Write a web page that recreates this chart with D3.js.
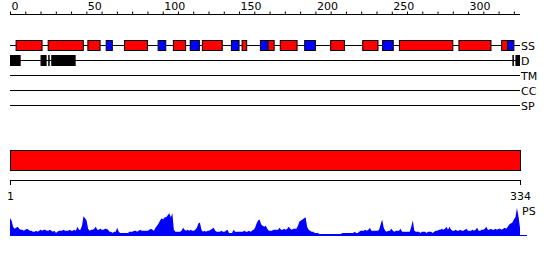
<!DOCTYPE html>
<html><head><meta charset="utf-8">
<script src="https://cdn.jsdelivr.net/npm/d3@7"></script>
<style>body{margin:0;background:#fff}svg{display:block}text{font-family:"DejaVu Sans",sans-serif;font-size:11px;fill:#000}</style>
</head><body><svg id="c" width="550" height="260"></svg>
<script>
const seqLength = 334;
const trackNames = ["SS", "D", "TM", "CC", "SP"];
// secondary structure elements: [start, end, type] (H = helix red, E = strand blue)
const ssStart = [4, 25, 51, 63, 75, 97, 107, 118, 126, 145, 152, 164, 169, 177, 193, 210, 231, 244, 255, 294, 322, 326];
const ssEnd   = [21, 48, 59, 67, 90, 102, 115, 124, 139, 150, 155, 169, 173, 188, 200, 219, 241, 251, 290, 315, 326, 330];
const ssType  = ["H","H","H","E","H","E","H","E","H","E","H","E","H","H","E","H","H","E","H","H","H","E"];
// disordered regions
const disStart = [0, 20, 25, 27, 329, 331];
const disEnd   = [7, 24, 26, 43, 330, 334];
const topTicks = d3.range(0, 331, 10);
const rulerLabels = [1, 334];
// PS profile, one value per residue 1..334
const psValues = [
17,15,9,7,8,9,7,6,6,5,
6,7,6,5,5,4,4,5,4,5,
6,5,6,6,5,5,6,5,4,5,
3,4,5,5,5,6,5,5,5,6,
5,5,6,5,9,6,6,10,19,17,
15,7,5,6,6,7,9,6,6,7,
6,6,7,7,6,4,4,3,4,4,
8,4,3,3,3,3,3,3,4,4,
4,5,5,4,5,6,5,5,5,5,
5,6,7,6,5,8,10,12,15,17,
16,18,18,20,22,18,22,6,4,4,
4,4,5,8,6,5,6,5,6,5,
5,6,8,12,13,6,4,5,4,5,
5,6,7,8,5,4,4,4,5,4,
4,5,6,3,3,3,6,4,4,4,
4,4,4,5,4,4,5,4,5,6,
8,12,15,16,11,10,9,10,7,5,
5,5,6,6,6,6,8,6,6,7,
6,7,9,7,6,7,7,7,10,14,
15,16,17,18,9,6,5,4,4,3,
3,3,2,2,2,2,2,2,2,2,
2,2,2,2,2,2,2,3,3,3,
3,3,3,3,3,4,3,3,4,5,
5,5,6,5,6,8,5,5,5,5,
5,6,11,16,8,5,4,5,5,7,
5,4,5,5,5,7,4,4,4,4,
4,4,9,15,5,4,4,4,3,4,
4,4,3,4,4,4,3,4,5,5,
6,6,7,6,7,9,6,9,6,5,
5,6,5,5,6,5,5,6,7,5,
5,5,6,5,6,8,5,5,6,6,
7,9,6,6,7,6,6,7,6,7,
7,6,7,8,7,9,11,12,13,16,
18,27,19,8];

const svg = d3.select("#c");
const x = d3.scaleLinear().domain([0, seqLength]).range([10, 520]);
const xr = d3.scaleLinear().domain([1, seqLength]).range([10, 520]);
const trackY = d3.scalePoint().domain(trackNames).range([45.5, 105.5]);
const colorOf = {H: "#ff0000", E: "#0000ff"};

// top axis
const ax = svg.append("g").attr("transform", "translate(0,14.5)")
  .call(d3.axisTop(x).tickValues(topTicks).tickSize(3).tickPadding(0)
    .tickFormat(d => d % 50 === 0 ? d : ""));
ax.select(".domain").attr("d", `M${x(0)},0H${x(seqLength)}`).attr("stroke", "#000");
ax.selectAll(".tick line").attr("stroke", "#000");
ax.selectAll(".tick text").attr("text-anchor", "start").attr("x", 1).attr("y", -4.5).attr("dy", 0)
  .style("font-family", '"DejaVu Sans",sans-serif').style("font-size", "11px").attr("fill", "#000");

// track lines and labels
trackNames.forEach(n => {
  svg.append("line").attr("x1", x(0)).attr("x2", x(seqLength))
    .attr("y1", trackY(n)).attr("y2", trackY(n)).attr("stroke", "#000");
  svg.append("text").attr("x", 521).attr("y", trackY(n) + 4.5).text(n);
});

// SS boxes
svg.append("g").selectAll("rect").data(ssStart.map((s, i) => ({s, e: ssEnd[i], t: ssType[i]})))
  .join("rect")
  .attr("x", d => x(d.s)).attr("width", d => x(d.e) - x(d.s))
  .attr("y", trackY("SS") - 5).attr("height", 10)
  .attr("fill", d => colorOf[d.t]).attr("stroke", "#000").attr("stroke-width", 1);

// disorder boxes
svg.append("g").selectAll("rect").data(disStart.map((s, i) => ({s, e: disEnd[i]})))
  .join("rect")
  .attr("x", d => x(d.s)).attr("width", d => x(d.e) - x(d.s))
  .attr("y", trackY("D") - 5.5).attr("height", 11).attr("fill", "#000");

// full-length red bar
svg.append("rect").attr("x", x(0) + 0.5).attr("y", 150.5)
  .attr("width", x(seqLength) - x(0)).attr("height", 20)
  .attr("fill", "#ff0000").attr("stroke", "#000");

// ruler
svg.append("line").attr("x1", xr(1)).attr("x2", xr(seqLength)).attr("y1", 180.5).attr("y2", 180.5).attr("stroke", "#000");
rulerLabels.forEach(v => {
  svg.append("line").attr("x1", xr(v) + 0.5).attr("x2", xr(v) + 0.5).attr("y1", 180).attr("y2", 185).attr("stroke", "#000");
  svg.append("text").attr("x", xr(v) + 0.5).attr("y", 200).attr("text-anchor", "middle").text(v);
});

// PS profile
const y = d3.scaleLinear().domain([0, 27]).range([236, 208]);
svg.append("path").datum(psValues)
  .attr("d", d3.area().x((d, i) => xr(i + 1)).y0(y(0)).y1(d => y(d)))
  .attr("fill", "#0000ff");
svg.append("line").attr("x1", xr(1)).attr("x2", 527).attr("y1", y(0) - 0.5).attr("y2", y(0) - 0.5).attr("stroke", "#0000ff");
svg.append("text").attr("x", 522).attr("y", 215).text("PS");
</script></body></html>
